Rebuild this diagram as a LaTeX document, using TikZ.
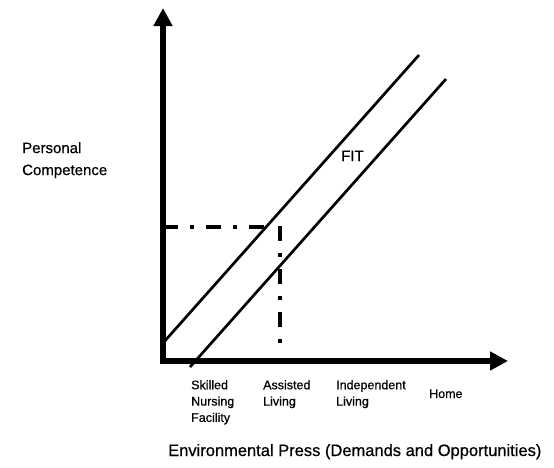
\documentclass[tikz,border=0pt]{standalone}
\usepackage{fontspec}
\setmainfont[FakeBold=0.6]{Liberation Sans}
\usepackage{tikz}
\usetikzlibrary{arrows.meta,positioning,calc}

\begin{document}
\begin{tikzpicture}[x = 1pt, y = -1pt,
    axis/.style = {line width = 6pt, {Triangle[length=18pt, width=18pt]}-{Triangle[length=18pt, width=18pt]}},
    fitline/.style = {line width = 2.7pt},
    guide/.style = {line width = 4pt, dash pattern = on 15pt off 12pt on 4pt off 12pt},
    setting/.style = {anchor = north west, inner sep = 0pt, align = left, font = \fontsize{12.5}{16.3}\selectfont}]
\useasboundingbox (0, 0) rectangle (554, 467);

\coordinate (O) at (163, 361);
\coordinate (Y) at (163, 8);
\coordinate (X) at (508, 361);
\coordinate (U0) at (163, 343);
\coordinate (U1) at (419, 55);
\coordinate (L0) at (190, 367);
\coordinate (L1) at (446, 79);
\coordinate (H0) at (163, 227);
\coordinate (H1) at (268, 227);
\coordinate (V0) at (280, 226);
\coordinate (V1) at (280, 347);

\node[anchor = north west, inner sep = 0pt, align = left, font = \fontsize{15}{22}\selectfont] (P) at (22, 142) {Personal\\Competence};
\node[anchor = base west, inner sep = 0pt, font = \fontsize{15}{18}\selectfont] (F) at (341, 161) {FIT};
\node[setting] (S) at (191, 380) {Skilled\\Nursing\\Facility};
\node[setting] (A) at (263, 380) {Assisted\\Living};
\node[setting] (I) at (336, 380) {Independent\\Living};
\node[anchor = base west, inner sep = 0pt, font = \fontsize{12.5}{16.3}\selectfont] (Hm) at (429, 398) {Home};
\node[anchor = base west, inner sep = 0pt, font = \fontsize{16.5}{20}\selectfont] (E) at (168, 456) {Environmental Press (Demands and Opportunities)};

\draw[axis] (Y) -- (O) -- (X);
\draw[fitline] (U0) -- (U1);
\draw[fitline] (L0) -- (L1);
\draw[guide] (H0) -- (H1);
\draw[guide] (V0) -- (V1);

\end{tikzpicture}
\end{document}
